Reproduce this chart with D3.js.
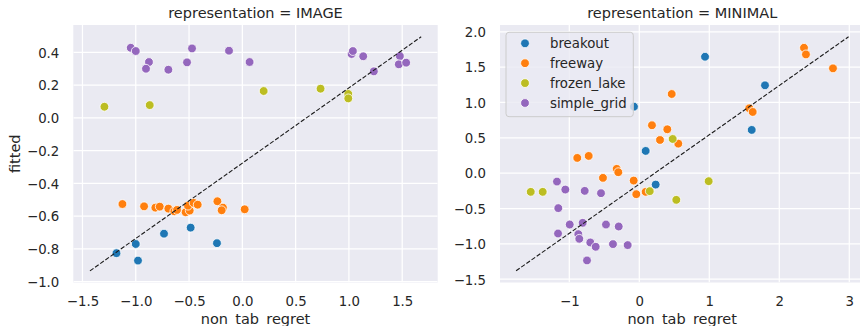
<!DOCTYPE html>
<html>
<head>
<meta charset="utf-8">
<script src="https://cdn.jsdelivr.net/npm/d3@7/dist/d3.min.js"></script>
<style>
  html, body { margin: 0; padding: 0; background: #ffffff; }
  svg { display: block; font-family: "DejaVu Sans", sans-serif; }
</style>
</head>
<body>
<svg id="chart" width="860" height="326"></svg>
<script>
// Environments (hue levels) and their colours
const envNames = ["breakout", "freeway", "frozen_lake", "simple_grid"];
const envColors = ["#1f77b4", "#ff7f0e", "#bcbd22", "#9467bd"];

// Panel titles and tick values
const panelTitles = ["representation = IMAGE", "representation = MINIMAL"];
const imageXTicks = [-1.5, -1.0, -0.5, 0.0, 0.5, 1.0, 1.5];
const imageYTicks = [-1.0, -0.8, -0.6, -0.4, -0.2, 0.0, 0.2, 0.4];
const minimalXTicks = [-1, 0, 1, 2, 3];
const minimalYTicks = [-1.5, -1.0, -0.5, 0.0, 0.5, 1.0, 1.5, 2.0];

// IMAGE representation: [non_tab_regret, fitted]
const imageBreakout = [[-1.181, -0.826], [-1.0, -0.770], [-0.979, -0.871], [-0.735, -0.707], [-0.485, -0.670], [-0.238, -0.765]];
const imageFreeway = [[-1.125, -0.526], [-0.922, -0.540], [-0.816, -0.548], [-0.775, -0.542], [-0.694, -0.554], [-0.638, -0.570],
  [-0.613, -0.562], [-0.532, -0.576], [-0.494, -0.566], [-0.510, -0.536], [-0.457, -0.519], [-0.419, -0.530],
  [-0.234, -0.509], [-0.182, -0.548], [-0.194, -0.564], [0.022, -0.558]];
const imageFrozenLake = [[-1.294, 0.068], [-0.869, 0.078], [0.200, 0.164], [0.734, 0.178], [0.994, 0.146], [0.994, 0.119]];
const imageSimpleGrid = [[-1.047, 0.428], [-1.0, 0.408], [-0.876, 0.341], [-0.904, 0.300], [-0.694, 0.294], [-0.519, 0.339],
  [-0.472, 0.424], [-0.125, 0.410], [0.068, 0.341], [1.025, 0.390], [1.037, 0.408], [1.134, 0.376],
  [1.234, 0.284], [1.478, 0.377], [1.468, 0.327], [1.537, 0.337]];
const imageFitLine = [[-1.43, -0.934], [1.678, 0.495]];

// MINIMAL representation: [non_tab_regret, fitted]
const minimalBreakout = [[0.939, 1.647], [-0.076, 0.941], [1.796, 1.243], [1.606, 0.612], [0.091, 0.315], [0.234, -0.161]];
const minimalFreeway = [[2.353, 1.774], [2.381, 1.680], [2.767, 1.483], [0.463, 1.120], [1.571, 0.918], [1.620, 0.866],
  [0.181, 0.678], [0.400, 0.621], [0.296, 0.470], [0.557, 0.418], [-0.886, 0.216], [-0.723, 0.244],
  [-0.323, 0.061], [-0.300, 0.014], [-0.519, -0.066], [-0.080, -0.104], [-0.043, -0.297], [0.091, -0.264]];
const minimalFrozenLake = [[0.477, 0.484], [-1.551, -0.264], [-1.380, -0.264], [0.149, -0.254], [0.529, -0.377], [0.991, -0.113]];
const minimalSimpleGrid = [[-1.176, -0.118], [-1.057, -0.231], [-0.780, -0.250], [-0.547, -0.283], [-1.157, -0.494],
  [-0.994, -0.726], [-0.809, -0.702], [-0.476, -0.726], [-0.294, -0.754], [-1.161, -0.853], [-0.871, -0.862],
  [-0.857, -0.928], [-0.700, -0.980], [-0.623, -1.041], [-0.376, -1.003], [-0.166, -1.017], [-0.747, -1.234]];
const minimalFitLine = [[-1.76, -1.38], [2.99, 1.93]];

const panels = [
  { title: panelTitles[0], series: [imageBreakout, imageFreeway, imageFrozenLake, imageSimpleGrid], line: imageFitLine,
    xTicks: imageXTicks, yTicks: imageYTicks, xDomain: [-1.586, 1.833], yDomain: [-1.005, 0.567],
    left: 73.3, fmtX: d3.format(".1f"), fmtY: d3.format(".1f"), ylabel: "fitted", legend: false },
  { title: panelTitles[1], series: [minimalBreakout, minimalFreeway, minimalFrozenLake, minimalSimpleGrid], line: minimalFitLine,
    xTicks: minimalXTicks, yTicks: minimalYTicks, xDomain: [-1.99, 3.216], yDomain: [-1.546, 2.096],
    left: 500, fmtX: d3.format("d"), fmtY: d3.format(".1f"), ylabel: null, legend: true }
];

const svg = d3.select("#chart");
const panelW = 364.4, plotTop = 25, plotBottom = 282.5;
const textColor = "#262626";
const minus = s => s.replace("-", "\u2212");

panels.forEach(p => {
  const x = d3.scaleLinear().domain(p.xDomain).range([p.left, p.left + panelW]);
  const y = d3.scaleLinear().domain(p.yDomain).range([plotBottom, plotTop]);
  const g = svg.append("g");

  const clipId = "clip" + Math.round(p.left);
  svg.append("clipPath").attr("id", clipId)
    .append("rect").attr("x", p.left).attr("y", plotTop).attr("width", panelW).attr("height", plotBottom - plotTop);

  g.append("rect").attr("x", p.left).attr("y", plotTop).attr("width", panelW).attr("height", plotBottom - plotTop)
    .attr("fill", "#eaeaf2");

  // grid lines
  const grid = g.append("g").attr("clip-path", `url(#${clipId})`);
  grid.selectAll("line.vx").data(p.xTicks).join("line").attr("class", "vx")
    .attr("x1", d => x(d)).attr("x2", d => x(d)).attr("y1", plotTop).attr("y2", plotBottom)
    .attr("stroke", "#ffffff").attr("stroke-width", 1.25);
  grid.selectAll("line.hy").data(p.yTicks).join("line").attr("class", "hy")
    .attr("y1", d => y(d)).attr("y2", d => y(d)).attr("x1", p.left).attr("x2", p.left + panelW)
    .attr("stroke", "#ffffff").attr("stroke-width", 1.25);

  // axes (labels only, no domain or tick marks)
  const xAxis = g.append("g").attr("transform", `translate(0,${plotBottom})`)
    .call(d3.axisBottom(x).tickValues(p.xTicks).tickFormat(d => minus(p.fmtX(d))).tickSize(0).tickPadding(0));
  xAxis.select(".domain").remove();
  xAxis.selectAll("text").attr("y", 23).attr("dy", null)
    .attr("font-size", 13.3).attr("fill", textColor).attr("font-family", "DejaVu Sans");

  const yAxis = g.append("g").attr("transform", `translate(${p.left},0)`)
    .call(d3.axisLeft(y).tickValues(p.yTicks).tickFormat(d => minus(p.fmtY(d))).tickSize(0).tickPadding(14));
  yAxis.select(".domain").remove();
  yAxis.selectAll("text").attr("dy", "0.36em")
    .attr("font-size", 13.3).attr("fill", textColor).attr("font-family", "DejaVu Sans");

  // points
  const pts = g.append("g").attr("clip-path", `url(#${clipId})`);
  p.series.forEach((s, i) => {
    pts.selectAll(null).data(s).join("circle")
      .attr("cx", d => x(d[0])).attr("cy", d => y(d[1])).attr("r", 4.4)
      .attr("fill", envColors[i]).attr("stroke", "#ffffff").attr("stroke-width", 0.8);
  });

  // dashed fit line
  g.append("path").attr("clip-path", `url(#${clipId})`)
    .attr("d", d3.line().x(d => x(d[0])).y(d => y(d[1]))(p.line))
    .attr("fill", "none").attr("stroke", "#1a1a1a").attr("stroke-width", 1.1)
    .attr("stroke-dasharray", "4.4,1.9");

  // title and axis labels
  g.append("text").attr("x", p.left + panelW / 2).attr("y", 18.3).attr("text-anchor", "middle")
    .attr("font-size", 14.5).attr("fill", textColor).text(p.title);
  g.append("text").attr("x", p.left + panelW / 2).attr("y", 323.5).attr("text-anchor", "middle")
    .attr("font-size", 14.5).attr("fill", textColor).text("non_tab_regret");
  if (p.ylabel) {
    g.append("text").attr("transform", `translate(20,${(plotTop + plotBottom) / 2}) rotate(-90)`)
      .attr("text-anchor", "middle").attr("font-size", 14.5).attr("fill", textColor).text(p.ylabel);
  }

  if (p.legend) {
    const lg = g.append("g");
    lg.append("rect").attr("x", 506).attr("y", 32.3).attr("width", 127.3).attr("height", 84.4)
      .attr("rx", 3).attr("fill", "#eaeaf2").attr("fill-opacity", 0.8)
      .attr("stroke", "#cccccc").attr("stroke-width", 1);
    envNames.forEach((name, i) => {
      const cy = 43.3 + i * 19.9;
      lg.append("circle").attr("cx", 525).attr("cy", cy).attr("r", 4.4)
        .attr("fill", envColors[i]).attr("stroke", "#ffffff").attr("stroke-width", 0.8);
      lg.append("text").attr("x", 550).attr("y", cy).attr("dy", "0.36em")
        .attr("font-size", 13.3).attr("fill", textColor).text(name);
    });
  }
});
</script>
</body>
</html>
